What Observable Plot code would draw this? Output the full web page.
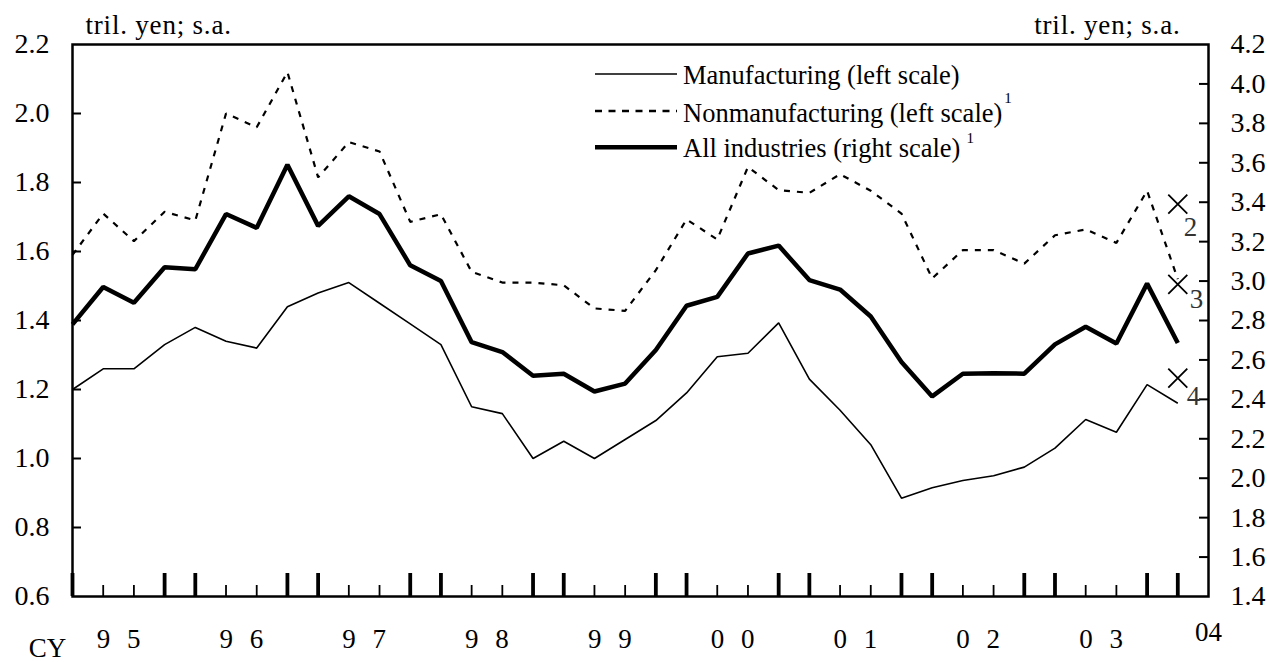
<!DOCTYPE html>
<html>
<head>
<meta charset="utf-8">
<script src="https://cdn.jsdelivr.net/npm/d3@7"></script>
<script src="https://cdn.jsdelivr.net/npm/@observablehq/plot@0.6"></script>
<style>
  html, body { margin: 0; padding: 0; background: #fff; }
  #chart svg { display: block; }
  #chart svg text { font-family: 'Liberation Serif', 'Times New Roman', Times, serif; }
</style>
</head>
<body>
<div id="chart"></div>
<script>
// ---- data ----
const quarters = [
  "95Q1","95Q2","95Q3","95Q4","96Q1","96Q2","96Q3","96Q4",
  "97Q1","97Q2","97Q3","97Q4","98Q1","98Q2","98Q3","98Q4",
  "99Q1","99Q2","99Q3","99Q4","00Q1","00Q2","00Q3","00Q4",
  "01Q1","01Q2","01Q3","01Q4","02Q1","02Q2","02Q3","02Q4",
  "03Q1","03Q2","03Q3","03Q4","04Q1"
];
const yearLabels = ["9 5","9 6","9 7","9 8","9 9","0 0","0 1","0 2","0 3"];
const lastYearLabel = "04";

// Manufacturing (left scale, tril. yen)
const manufacturing = [
  1.20, 1.26, 1.26, 1.33, 1.38, 1.34, 1.32, 1.44,
  1.48, 1.51, 1.45, 1.39, 1.33, 1.15, 1.13, 1.00,
  1.05, 1.00, 1.055, 1.11, 1.19, 1.295, 1.305, 1.393,
  1.23, 1.14, 1.04, 0.885, 0.915, 0.936, 0.95, 0.975,
  1.03, 1.113, 1.076, 1.214, 1.16
];
// Nonmanufacturing (left scale)
const nonmanufacturing = [
  1.59, 1.71, 1.63, 1.715, 1.69, 2.00, 1.96, 2.12,
  1.815, 1.917, 1.89, 1.686, 1.708, 1.541, 1.51, 1.51,
  1.502, 1.435, 1.428, 1.546, 1.693, 1.635, 1.845, 1.778,
  1.77, 1.824, 1.776, 1.71, 1.522, 1.604, 1.604, 1.565,
  1.647, 1.664, 1.625, 1.776, 1.52
];
// All industries (right scale)
const allIndustries = [
  2.78, 2.97, 2.89, 3.07, 3.06, 3.34, 3.27, 3.59,
  3.28, 3.43, 3.34, 3.08, 3.00, 2.69, 2.64, 2.52,
  2.53, 2.44, 2.48, 2.65, 2.875, 2.92, 3.14, 3.18,
  3.005, 2.957, 2.82, 2.59, 2.415, 2.53, 2.533, 2.53,
  2.679, 2.768, 2.683, 2.987, 2.686
];
// Forecast markers (x) for the last quarter
const forecastQuarter = "04Q1";
const forecastLabels = ["2", "3", "4"];
const forecastAllRight = 3.39;     // right scale
const forecastNonmanLeft = 1.505;  // left scale
const forecastManLeft = 1.233;     // left scale

const leftTicks = [0.6, 0.8, 1.0, 1.2, 1.4, 1.6, 1.8, 2.0, 2.2];
const rightTicks = [1.4, 1.6, 1.8, 2.0, 2.2, 2.4, 2.6, 2.8, 3.0, 3.2, 3.4, 3.6, 3.8, 4.0, 4.2];
const unitLabel = "tril. yen; s.a.";
const cyLabel = "CY";
const legendItems = [
  {label: "Manufacturing (left scale)", sup: null},
  {label: "Nonmanufacturing (left scale)", sup: "1"},
  {label: "All industries (right scale)", sup: "1"}
];

// ---- scales mapping ----
const L0 = 0.6, L1 = 2.2, R0 = 1.4, R1 = 4.2;
const toLeft = r => L0 + (r - R0) * (L1 - L0) / (R1 - R0);
const fromLeft = v => R0 + (v - L0) * (R1 - R0) / (L1 - L0);

const W = 1268, H = 662;
const mL = 72, mR = 60, mT = 44, mB = 66;
const plotW = W - mL - mR, plotH = H - mT - mB;
const FONT = "'Liberation Serif', 'Times New Roman', Times, serif";
const FS = 27;
const T = {fontSize: FS, fontFamily: FONT, lineAnchor: "middle"};

const rows = quarters.map((q, i) => ({
  i, q, m: manufacturing[i], n: nonmanufacturing[i], a: toLeft(allIndustries[i])
}));
const qIdx = quarters.map((q, i) => ({q, i, big: q.endsWith("Q1") || q.endsWith("Q4")}));
const fi = quarters.indexOf(forecastQuarter);
const forecasts = [
  {x: fi, y: toLeft(forecastAllRight), label: forecastLabels[0]},
  {x: fi, y: forecastNonmanLeft, label: forecastLabels[1]},
  {x: fi, y: forecastManLeft, label: forecastLabels[2]}
];
const inner = t => t > L0 + 1e-9 && t < L1 - 1e-9;

const plot = Plot.plot({
  width: W, height: H,
  marginLeft: mL, marginRight: mR, marginTop: mT, marginBottom: mB,
  style: {fontFamily: FONT, fontSize: FS + "px", background: "#fff", color: "#000", overflow: "visible"},
  x: {type: "linear", domain: [0, quarters.length], axis: null},
  y: {domain: [L0, L1], axis: null},
  marks: [
    // inward ticks, left and right
    Plot.tickY(leftTicks.filter(inner), {y: d => d, insetRight: plotW - 9, stroke: "#000", strokeWidth: 2}),
    Plot.tickY(rightTicks.map(toLeft).filter(inner), {y: d => d, insetLeft: plotW - 9, stroke: "#000", strokeWidth: 2}),
    // bottom ticks
    Plot.tickX(qIdx.filter(d => !d.big), {x: "i", insetTop: plotH - 11, stroke: "#000", strokeWidth: 1.8}),
    Plot.tickX(qIdx.filter(d => d.big), {x: "i", insetTop: plotH - 23, stroke: "#000", strokeWidth: 3.8}),
    // axis labels
    Plot.axisY(leftTicks, {anchor: "left", tickSize: 0, tickPadding: 23, label: null,
      tickFormat: d => d.toFixed(1), fontSize: 28, fontFamily: FONT}),
    Plot.axisY(rightTicks.map(toLeft), {anchor: "right", tickSize: 0, tickPadding: 22, label: null,
      tickFormat: d => fromLeft(d).toFixed(1), fontSize: 28, fontFamily: FONT}),
    // series
    Plot.line(rows, {x: "i", y: "m", stroke: "#000", strokeWidth: 1.6, strokeLinejoin: "miter", strokeLinecap: "butt"}),
    Plot.line(rows, {x: "i", y: "n", stroke: "#000", strokeWidth: 2.2, strokeDasharray: "6,7", strokeLinejoin: "miter", strokeLinecap: "butt"}),
    Plot.line(rows, {x: "i", y: "a", stroke: "#000", strokeWidth: 4.5, strokeLinejoin: "miter", strokeLinecap: "butt"}),
    // forecast markers
    Plot.dot(forecasts, {x: "x", y: "y", symbol: "times", r: 8.7, stroke: "#000", strokeWidth: 1.8}),
    Plot.text([forecasts[0]], {x: "x", y: "y", text: "label", dx: 6, dy: 23, textAnchor: "start", fill: "#333", ...T}),
    Plot.text([forecasts[1]], {x: "x", y: "y", text: "label", dx: 12, dy: 15, textAnchor: "start", fill: "#333", ...T}),
    Plot.text([forecasts[2]], {x: "x", y: "y", text: "label", dx: 9, dy: 18, textAnchor: "start", fill: "#333", ...T}),
    // frame
    Plot.frame({stroke: "#000", strokeWidth: 2.5}),
    // unit labels
    Plot.text([unitLabel], {frameAnchor: "top-left", text: d => d, textAnchor: "start", dx: 13, dy: -19, ...T}),
    Plot.text([unitLabel], {frameAnchor: "top-right", text: d => d, textAnchor: "end", dx: -28, dy: -19, ...T}),
    // x labels
    Plot.text(yearLabels, {x: (d, i) => 4 * i + 1.5, text: d => d, frameAnchor: "bottom", textAnchor: "middle", dy: 43, dx: 2.5, ...T}),
    Plot.text([lastYearLabel], {x: [quarters.length], text: d => d, frameAnchor: "bottom", textAnchor: "middle", dy: 36, ...T}),
    Plot.text([cyLabel], {frameAnchor: "bottom-left", text: d => d, textAnchor: "middle", dx: -25, dy: 52, ...T})
  ]
});

const svg = d3.select(plot);
// spaced year digits and unit label spacing
svg.selectAll("text").filter(function () {
  return yearLabels.includes(this.textContent);
}).attr("letter-spacing", "5px");
svg.selectAll("text").filter(function () {
  return this.textContent === unitLabel;
}).attr("letter-spacing", "0.8px");

// legend
const lg = svg.append("g").attr("font-family", FONT).attr("font-size", 26.5)
  .attr("fill", "#000").attr("text-anchor", "start");
const lineY = [74, 111, 147.3];
const textY = [84, 121.7, 157.3];
const styles = [
  {w: 1.6, dash: null},
  {w: 2.6, dash: "7,6.5"},
  {w: 4.5, dash: null}
];
const supDy = [0, -18.4, -14];
legendItems.forEach((it, k) => {
  lg.append("line").attr("x1", 595).attr("x2", 677).attr("y1", lineY[k]).attr("y2", lineY[k])
    .attr("stroke", "#000").attr("stroke-width", styles[k].w)
    .attr("stroke-dasharray", styles[k].dash);
  const t = lg.append("text").attr("x", 683).attr("y", textY[k]).attr("text-anchor", "start");
  t.append("tspan").text(it.label);
  if (it.sup) {
    t.append("tspan").attr("dx", k === 2 ? 6 : 2).attr("dy", supDy[k]).attr("font-size", 15).text(it.sup);
  }
});

document.getElementById("chart").appendChild(plot);
</script>
</body>
</html>
